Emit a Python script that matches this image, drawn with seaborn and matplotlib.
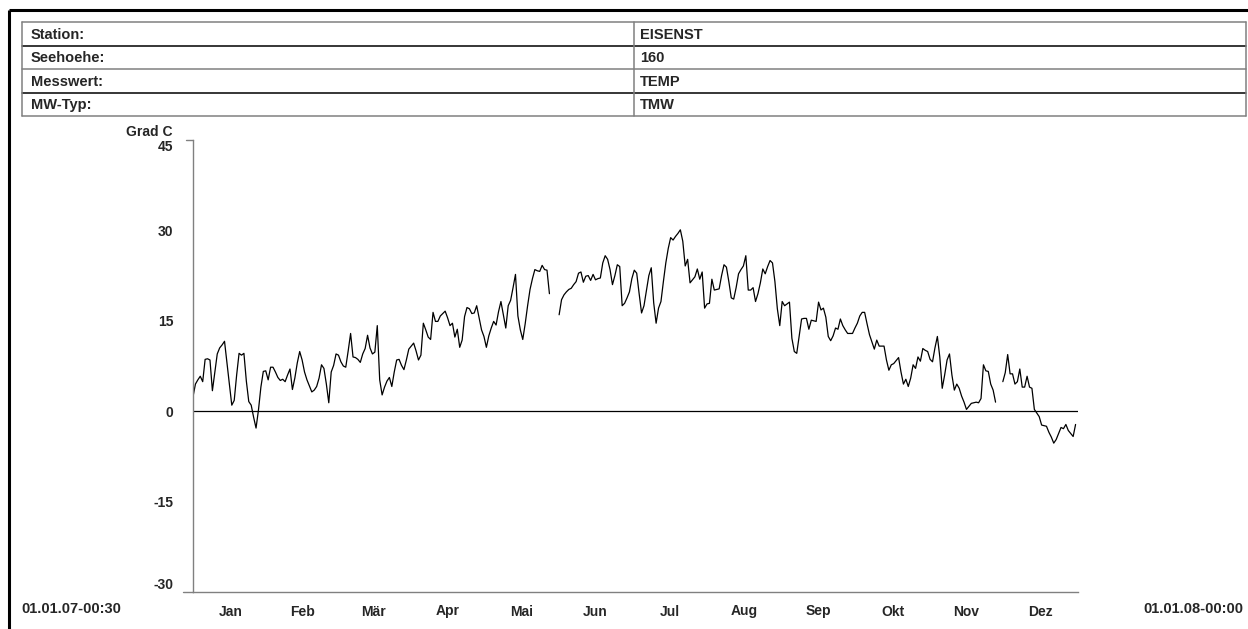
import numpy as np
import pandas as pd
import matplotlib
matplotlib.use("Agg")
import matplotlib.pyplot as plt
import seaborn as sns

# ---------------------------------------------------------------
# Daten: Tagesmittel Temperatur 2007 (Grad C)
# ---------------------------------------------------------------
jan = [2.4, 4.5, 5.2, 5.8, 4.9, 8.6, 8.7, 8.5, 3.4, 6.5, 9.5, 10.5, 11.0, 11.6, 8.0, 4.5,
       1.0, 1.8, 6.0, 9.6, 9.3, 9.6, 5.0, 1.6, 1.0, -1.0, -2.8, 0.2, 4.0, 6.6, 6.7]
feb = [5.2, 7.3, 7.3, 6.5, 5.6, 5.1, 5.3, 4.9, 6.0, 7.0, 3.6, 5.5, 8.0, 9.9, 8.5, 6.5,
       5.2, 4.2, 3.2, 3.5, 4.1, 5.5, 7.7, 7.1, 4.5, 1.4, 6.5, 7.6]
mar = [9.5, 9.3, 8.2, 7.5, 7.3, 10.0, 12.9, 9.0, 8.9, 8.6, 8.1, 9.5, 10.4, 12.6, 10.5, 9.5,
       9.8, 14.2, 5.2, 2.7, 4.0, 5.0, 5.6, 4.1, 6.5, 8.5, 8.6, 7.6, 6.9, 8.5, 10.3]
apr = [10.8, 11.3, 10.0, 8.5, 9.3, 14.6, 13.5, 12.3, 11.9, 16.4, 14.9, 14.9, 15.8, 16.2, 16.6,
       15.5, 14.2, 14.6, 12.3, 13.6, 10.6, 11.8, 15.7, 17.2, 17.0, 16.2, 16.3, 17.5, 15.5, 13.5]
mai = [12.4, 10.6, 12.5, 13.8, 14.9, 14.3, 16.5, 18.2, 16.0, 13.8, 17.5, 18.4, 20.5, 22.7, 15.8,
       13.5, 11.9, 14.5, 17.5, 20.2, 22.0, 23.5, 23.3, 23.2, 24.2, 23.5, 23.4, 19.5,
       np.nan, np.nan, np.nan]
jun = [16.0, 18.5, 19.3, 19.8, 20.2, 20.4, 21.0, 21.5, 22.9, 23.1, 21.4, 22.4, 22.5, 21.7, 22.7,
       21.8, 22.0, 22.1, 24.6, 25.8, 25.2, 23.5, 21.0, 22.5, 24.3, 24.0, 17.5, 17.9, 18.8, 19.8]
jul = [22.0, 23.4, 22.9, 19.5, 16.3, 17.5, 20.0, 22.5, 23.8, 18.0, 14.6, 17.1, 18.2, 21.5, 24.6,
       27.0, 28.8, 28.4, 29.0, 29.5, 30.1, 28.2, 24.1, 25.2, 21.3, 21.8, 22.3, 23.6, 21.9, 23.1, 17.1]
aug = [17.8, 17.9, 21.9, 20.1, 20.2, 20.3, 22.5, 24.3, 23.9, 21.5, 18.8, 18.6, 20.5, 22.8, 23.5,
       24.1, 25.8, 20.1, 20.1, 20.5, 18.2, 19.5, 21.3, 23.6, 22.8, 24.0, 25.0, 24.6, 21.5, 17.0, 14.2]
sep = [18.2, 17.5, 17.8, 18.1, 12.1, 9.9, 9.6, 12.5, 15.3, 15.4, 15.4, 13.6, 15.1, 15.0, 14.9,
       18.1, 16.8, 17.1, 15.6, 12.4, 11.7, 12.5, 13.8, 13.6, 15.3, 14.2, 13.5, 12.9, 12.9, 12.9]
okt = [13.8, 14.6, 15.8, 16.4, 16.4, 14.5, 12.7, 11.5, 10.3, 11.8, 10.8, 10.8, 10.8, 8.5, 6.8,
       7.7, 7.9, 8.4, 8.9, 6.5, 4.5, 5.3, 4.1, 5.5, 7.7, 7.1, 9.0, 8.3, 10.4, 10.1, 9.9]
nov = [8.6, 8.2, 10.5, 12.4, 9.0, 3.8, 6.0, 8.5, 9.5, 6.0, 3.5, 4.5, 3.8, 2.5, 1.5,
       0.3, 0.8, 1.3, 1.4, 1.5, 1.4, 2.1, 7.7, 6.7, 6.6, 4.5, 3.5, 1.5, np.nan, np.nan]
dez = [4.9, 6.4, 9.4, 6.2, 6.2, 4.5, 4.9, 7.0, 4.0, 4.0, 5.8, 4.0, 3.8, 0.3, -0.3,
       -0.9, -2.3, -2.4, -2.5, -3.5, -4.3, -5.3, -4.7, -3.7, -2.7, -2.9, -2.2, -3.2, -3.7, -4.2, -2.2]

monate = ["Jan", "Feb", "Mär", "Apr", "Mai", "Jun", "Jul", "Aug", "Sep", "Okt", "Nov", "Dez"]
y_ticks = [-30, -15, 0, 15, 30, 45]
kopf_links = ["Station:", "Seehoehe:", "Messwert:", "MW-Typ:"]
kopf_rechts = ["EISENST", "160", "TEMP", "TMW"]
start_label = "01.01.07-00:30"
end_label = "01.01.08-00:00"

W, H = 1248, 629
GRAU = "#808080"

# ---------------------------------------------------------------
# Setup
# ---------------------------------------------------------------
sns.set_style("white")
plt.rcParams["font.family"] = ["Liberation Sans", "DejaVu Sans"]
plt.rcParams["font.weight"] = "bold"
plt.rcParams["font.size"] = 10

alle = [jan, feb, mar, apr, mai, jun, jul, aug, sep, okt, nov, dez]
temp = np.concatenate([np.array(m, dtype=float) for m in alle])
grenzen = np.concatenate([[0], np.cumsum([len(m) for m in alle])])
df = pd.DataFrame({"tag": np.arange(len(temp)), "temp": temp})

fig = plt.figure(figsize=(W / 100, H / 100), dpi=100)

# Overlay in Pixelkoordinaten fuer Rahmen und Kopftabelle
bg = fig.add_axes([0, 0, 1, 1])
bg.set_xlim(0, W)
bg.set_ylim(H, 0)
bg.axis("off")

# dicker Rahmen oben / links
bg.plot([9, W], [10, 10], color="black", lw=2.2, solid_capstyle="butt")
bg.plot([9, 9], [10, H], color="black", lw=2.2, solid_capstyle="butt")

# Kopftabelle
t_l, t_r, t_o = 22, 1246, 22
zeilen = [22, 45.5, 69, 92.5, 116]
for i, yy in enumerate(zeilen):
    col = GRAU if i % 2 == 0 else "black"
    bg.plot([t_l, t_r], [yy, yy], color=col, lw=1.1)
bg.plot([t_l, t_l], [zeilen[0], zeilen[-1]], color=GRAU, lw=1.1)
bg.plot([t_r, t_r], [zeilen[0], zeilen[-1]], color=GRAU, lw=1.1)
bg.plot([634, 634], [zeilen[0], zeilen[-1]], color=GRAU, lw=1.1)
for i in range(4):
    ym = (zeilen[i] + zeilen[i + 1]) / 2 + 1
    bg.text(31, ym, kopf_links[i], ha="left", va="center", fontsize=10.5, fontweight="bold")
    bg.text(640, ym, kopf_rechts[i], ha="left", va="center", fontsize=10.5, fontweight="bold")

# ---------------------------------------------------------------
# Diagramm
# ---------------------------------------------------------------
ax = fig.add_axes([193 / W, 1 - 592 / H, (1078 - 193) / W, (592 - 140) / H])
ax.patch.set_alpha(0)

gueltig = df["temp"].notna()
segment = (~gueltig).cumsum()
for _, teil in df[gueltig].groupby(segment[gueltig]):
    sns.lineplot(data=teil, x="tag", y="temp", ax=ax, color="black", lw=0.9,
                 estimator=None, sort=False)

ax.axhline(0, color="black", lw=0.9)
ax.set_xlim(0, 365)
ax.set_ylim(-30, 45)
ax.set_xlabel("")
ax.set_ylabel("")

ax.set_xticks(grenzen)
ax.set_xticklabels([])
ax.set_xticks((grenzen[:-1] + grenzen[1:]) / 2, minor=True)
ax.set_xticklabels(monate, minor=True)
ax.tick_params(axis="x", which="major", length=7, width=1, color=GRAU, direction="out")
ax.tick_params(axis="x", which="minor", length=0, pad=9, labelsize=10)

ax.set_yticks(y_ticks)
ylabs = ax.set_yticklabels([str(v) for v in y_ticks])
ax.tick_params(axis="y", length=0, pad=14, labelsize=10)
ylabs[0].set_va("bottom")
ylabs[-1].set_va("top")

for s in ["top", "right"]:
    ax.spines[s].set_visible(False)
for s in ["left", "bottom"]:
    ax.spines[s].set_color(GRAU)
    ax.spines[s].set_linewidth(1)

# kleine Verlaengerungen der Achsen
bg.plot([183, 193], [592, 592], color=GRAU, lw=1)
bg.plot([186, 193], [140, 140], color=GRAU, lw=1)

bg.text(173, 132, "Grad C", ha="right", va="center", fontsize=10, fontweight="bold")
bg.text(21, 609, start_label, ha="left", va="center", fontsize=10.5, fontweight="bold")
bg.text(1243, 609, end_label, ha="right", va="center", fontsize=10.5, fontweight="bold")

fig.savefig("out.png", dpi=100)
